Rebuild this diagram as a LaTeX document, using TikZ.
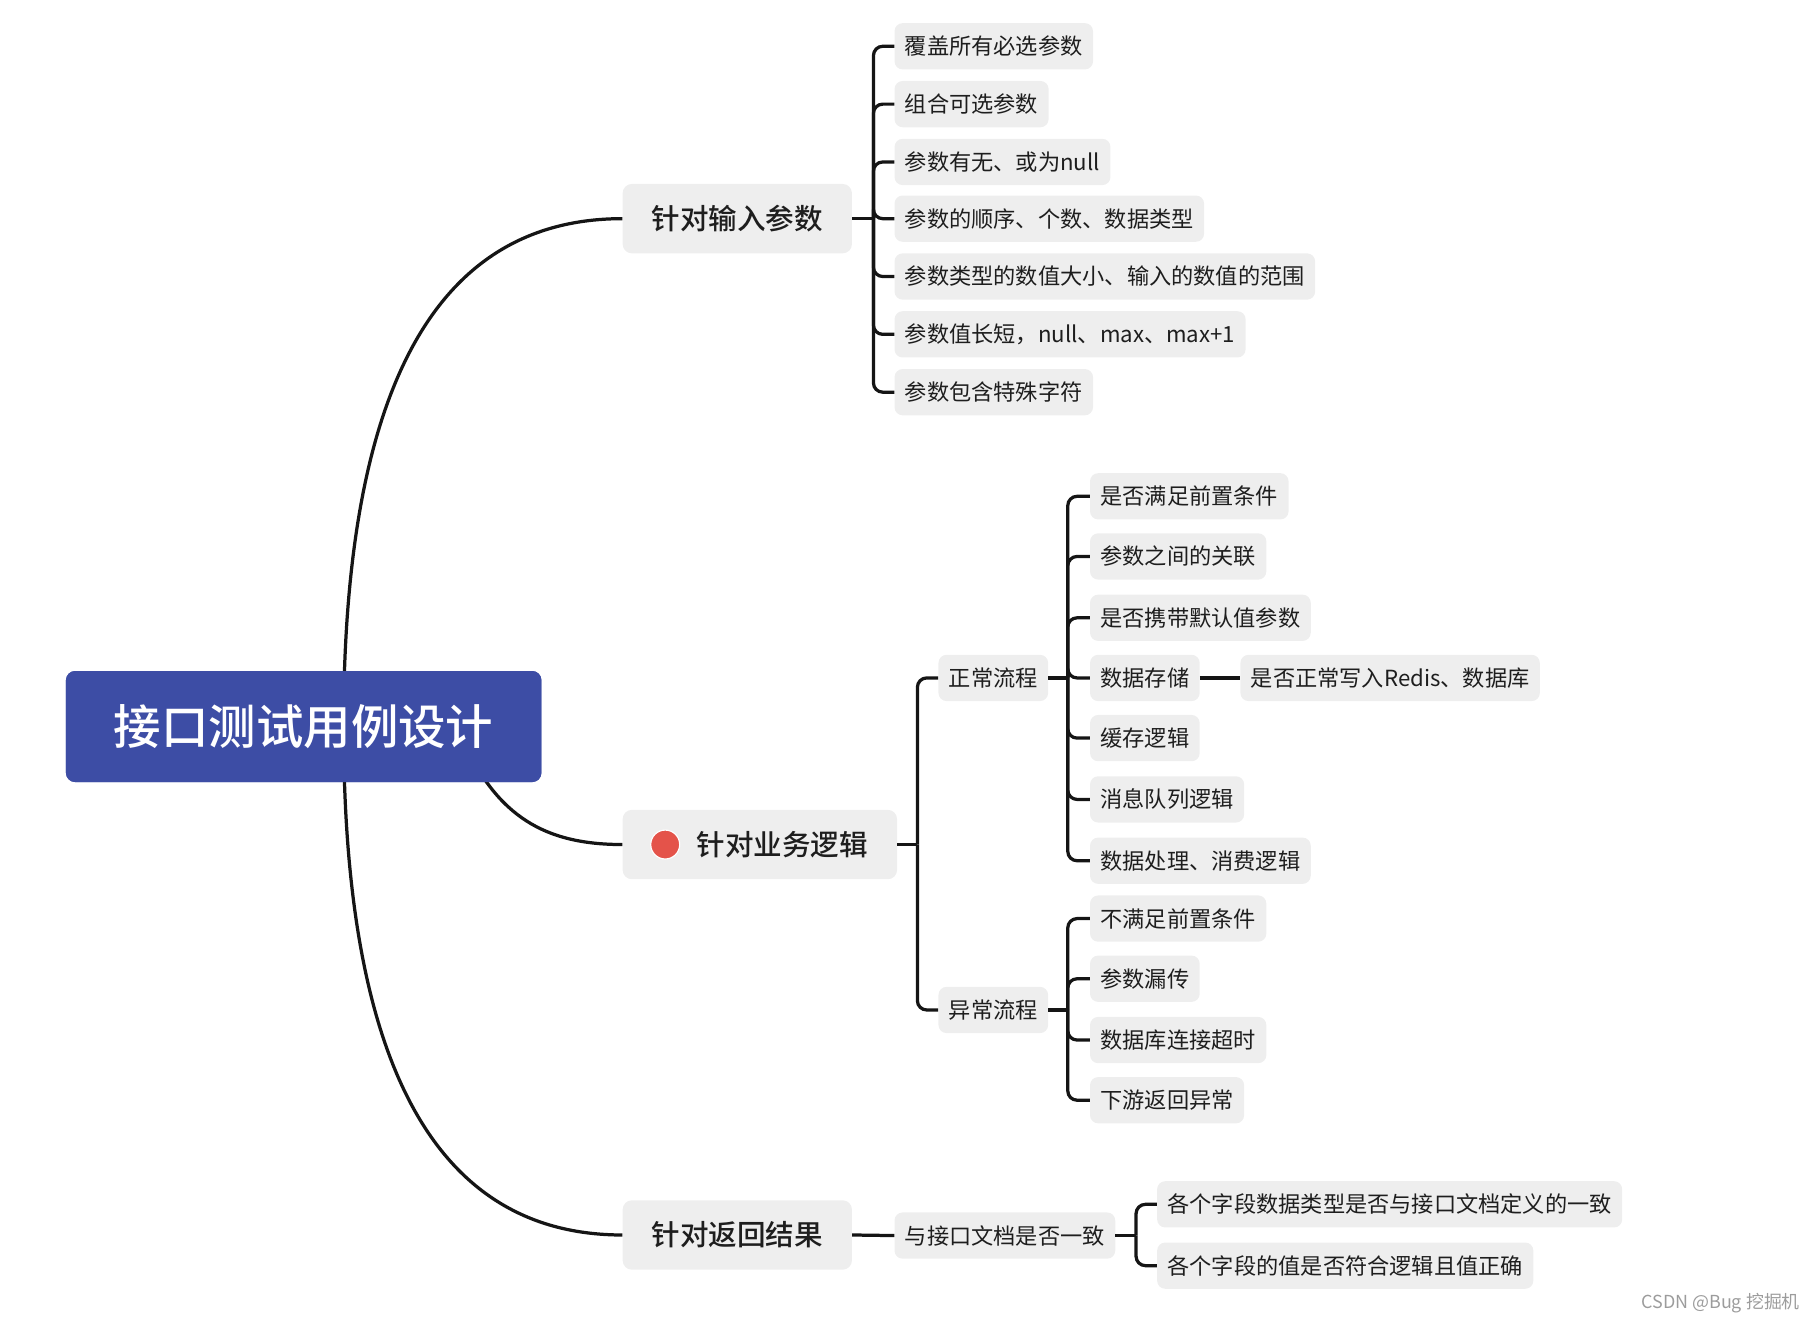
\documentclass[tikz,border=0pt]{standalone}
\usepackage{fontspec}
\newfontfamily\cjk{Noto Sans CJK SC}
\newfontfamily\cjkm{Noto Sans CJK SC}[UprightFont={* Medium}]
\usetikzlibrary{calc}
\definecolor{rootblue}{HTML}{3D4DA5}
\definecolor{leafgray}{HTML}{EEEEEE}
\definecolor{txt}{HTML}{1E1E1E}
\definecolor{linek}{HTML}{151515}
\definecolor{reddot}{HTML}{E4534A}
\definecolor{wm}{HTML}{9C9C9C}
\begin{document}
\begin{tikzpicture}[x=1pt,y=-1pt,
  conn/.style={draw=linek,line width=2.8pt},
  br/.style={conn,rounded corners=8pt},
  rootbox/.style={fill=rootblue,rounded corners=8pt,minimum width=411pt,minimum height=96pt,text=white,inner sep=0pt,font=\cjkm\fontsize{41}{41}\selectfont},
  l1/.style={fill=leafgray,rounded corners=8pt,minimum height=60pt,inner xsep=25pt,inner ysep=0pt,anchor=west,text=txt,font=\cjkm\fontsize{24.7}{25}\selectfont},
  leaf/.style={fill=leafgray,rounded corners=7pt,minimum height=40pt,inner xsep=9pt,inner ysep=0pt,anchor=west,text=txt,font=\cjk\fontsize{19.2}{20}\selectfont},
]
\useasboundingbox (0,0) rectangle (1568,1143);

% root
\coordinate (rt) at (297,628);
\node[rootbox] (root) at (262.5,628) {};
\node[l1] (A) at (538,189) {针对输入参数};
\node[l1] (B) at (538,730) {\hspace*{39pt}针对业务逻辑};
\node[l1] (C) at (538,1067.5) {针对返回结果};

\draw[conn] (rt) .. controls (297,335) and (377,189) .. (A.west);
\draw[conn] (rt) .. controls (297,921) and (377,1067.5) .. (C.west);
\draw[conn] (400,640) .. controls (430,705) and (470,730) .. (B.west);
\node[rootbox] (rootf) at (262.5,628) {接口测试用例设计};

\fill[reddot,draw=white,line width=1pt] ($(B.west)+(37,0)$) circle (12.5);

% A children
\node[leaf] (a1) at (773,40) {覆盖所有必选参数};
\node[leaf] (a2) at (773,90) {组合可选参数};
\node[leaf] (a3) at (773,140) {参数有无、或为null};
\node[leaf] (a4) at (773,189) {参数的顺序、个数、数据类型};
\node[leaf] (a5) at (773,239) {参数类型的数值大小、输入的数值的范围};
\node[leaf] (a6) at (773,289) {参数值长短，null、max、max+1};
\node[leaf] (a7) at (773,339) {参数包含特殊字符};
\coordinate (jA) at (755,189);
\draw[conn] (A.east) -- (jA);
\foreach \c in {a1,a2,a3,a4,a5,a6,a7} \draw[br] (jA) |- (\c.west);

% B children
\node[leaf] (n) at (811,586) {正常流程};
\node[leaf] (e) at (811,873) {异常流程};
\coordinate (jB) at (793,730);
\draw[conn] (B.east) -- (jB);
\foreach \c in {n,e} \draw[br] (jB) |- (\c.west);

\node[leaf] (n1) at (942,429) {是否满足前置条件};
\node[leaf] (n2) at (942,481) {参数之间的关联};
\node[leaf] (n3) at (942,534) {是否携带默认值参数};
\node[leaf] (n4) at (942,586) {数据存储};
\node[leaf] (n5) at (942,638) {缓存逻辑};
\node[leaf] (n6) at (942,691) {消息队列逻辑};
\node[leaf] (n7) at (942,744) {数据处理、消费逻辑};
\coordinate (jN) at (923,586);
\draw[conn] (n.east) -- (jN);
\foreach \c in {n1,n2,n3,n4,n5,n6,n7} \draw[br] (jN) |- (\c.west);

\node[leaf] (n41) at (1072,586) {是否正常写入Redis、数据库};
\draw[conn] (n4.east) -- (n41.west);

\node[leaf] (e1) at (942,794) {不满足前置条件};
\node[leaf] (e2) at (942,846) {参数漏传};
\node[leaf] (e3) at (942,899) {数据库连接超时};
\node[leaf] (e4) at (942,951) {下游返回异常};
\coordinate (jE) at (923,873);
\draw[conn] (e.east) -- (jE);
\foreach \c in {e1,e2,e3,e4} \draw[br] (jE) |- (\c.west);

% C children
\node[leaf] (c1) at (773,1068) {与接口文档是否一致};
\draw[conn] (C.east) -- (c1.west);
\node[leaf] (c11) at (1000,1041) {各个字段数据类型是否与接口文档定义的一致};
\node[leaf] (c12) at (1000,1094) {各个字段的值是否符合逻辑且值正确};
\coordinate (jC) at (982,1068);
\draw[conn] (c1.east) -- (jC);
\foreach \c in {c11,c12} \draw[br] (jC) |- (\c.west);

% watermark
\node[anchor=east,text=wm,inner sep=0pt,font=\cjk\fontsize{15.5}{16}\selectfont] (wmk) at (1556,1126) {CSDN @Bug 挖掘机};
\end{tikzpicture}
\end{document}
